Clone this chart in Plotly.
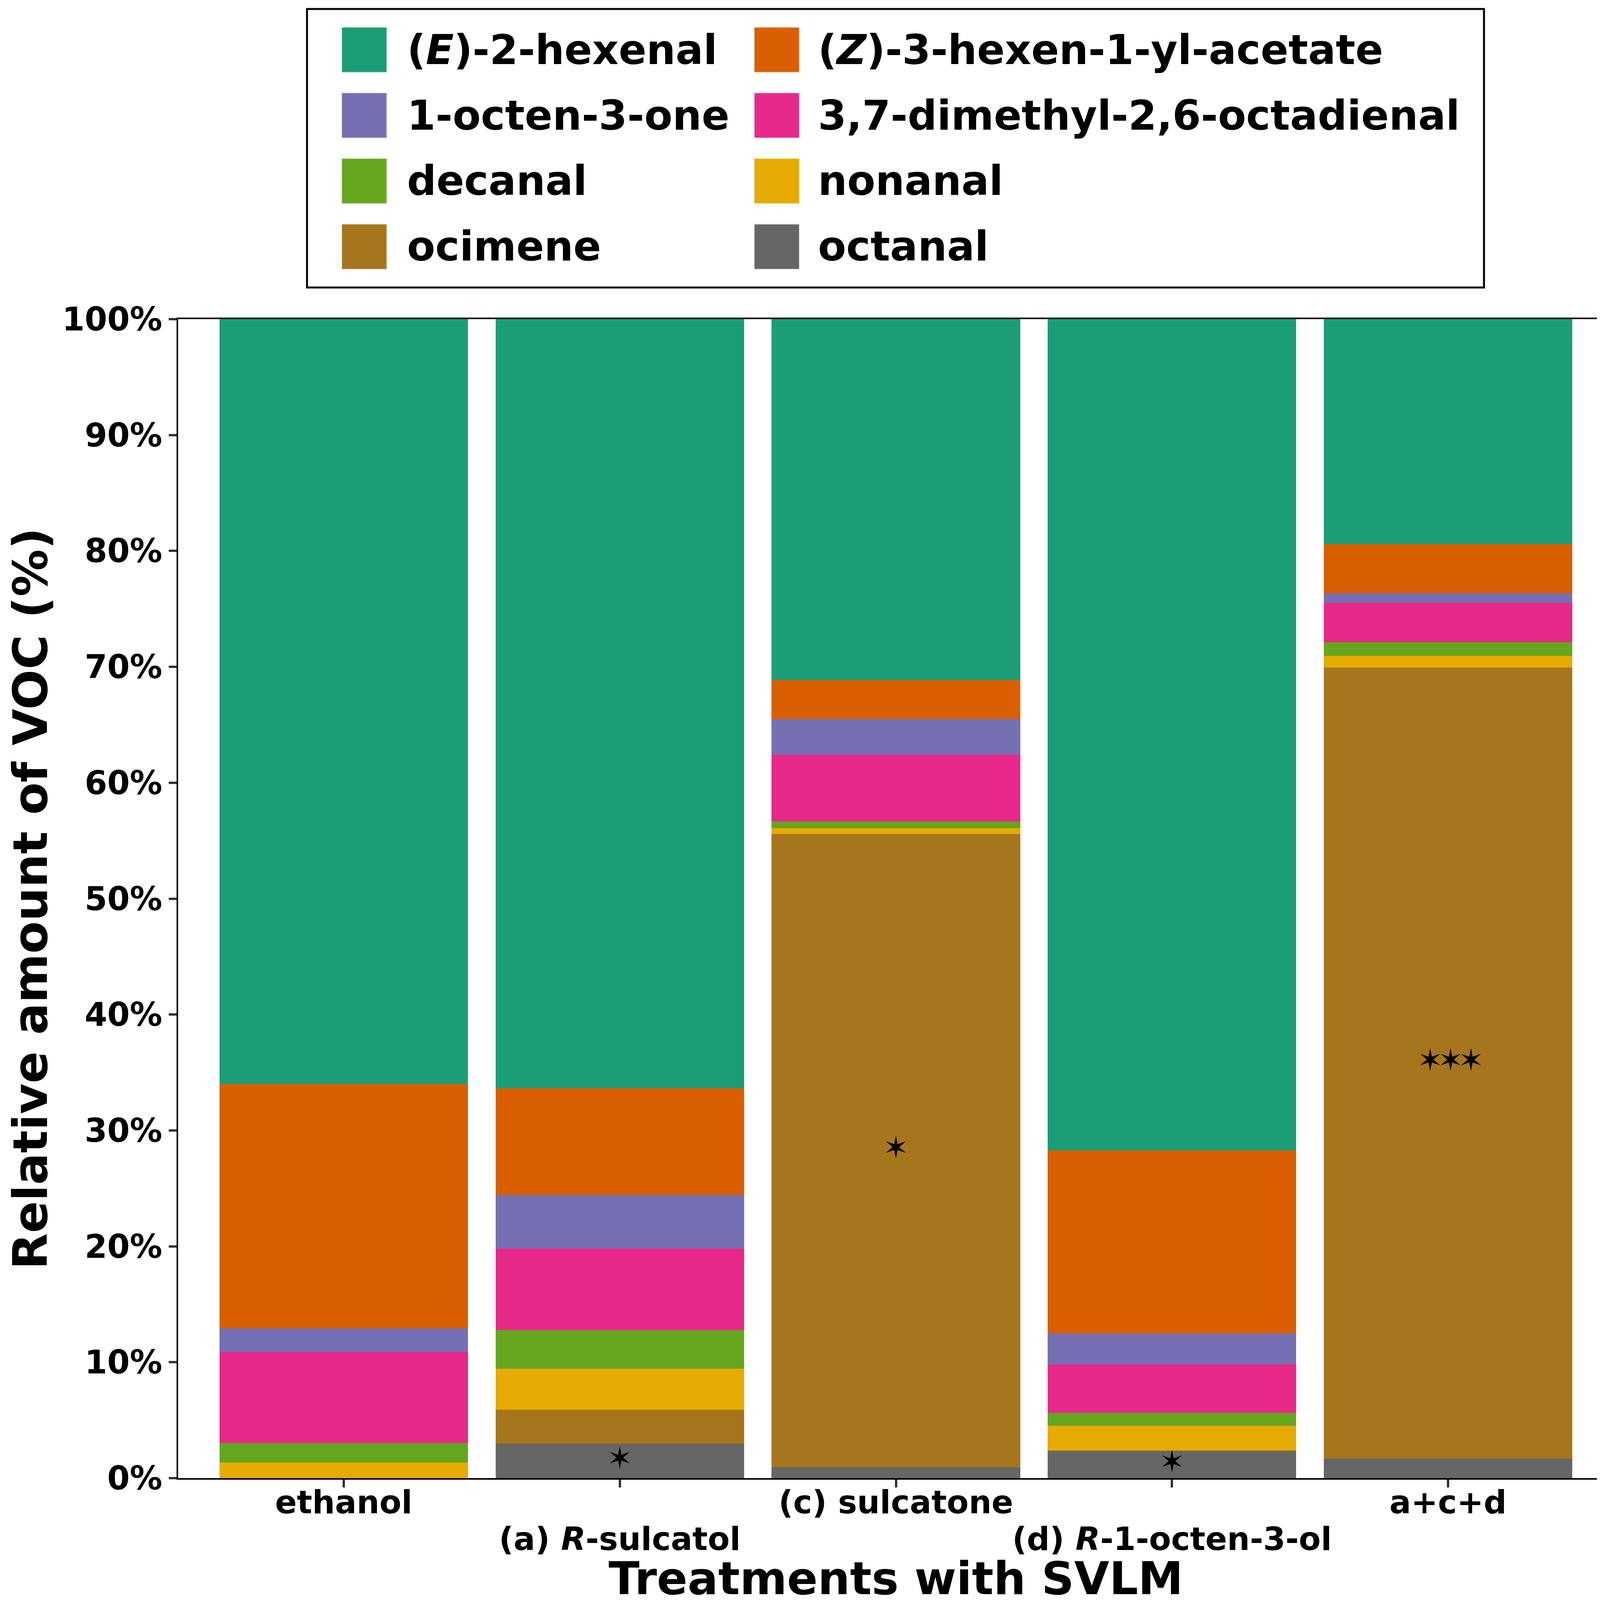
import plotly.graph_objects as go

# ─── Data (relative amount of VOC, %) ─────────────────────────────────────────

treatments = ["ethanol", "(a) R-sulcatol", "(c) sulcatone", "(d) R-1-octen-3-ol", "a+c+d"]
# second and fourth labels sit on a second row (like ggplot's n.dodge = 2)
tick_rows = [1, 2, 1, 2, 1]
tick_names = ["ethanol", "(a) <i>R</i>-sulcatol", "(c) sulcatone",
              "(d) <i>R</i>-1-octen-3-ol", "a+c+d"]

compounds = [
    "(E)-2-hexenal", "(Z)-3-hexen-1-yl-acetate", "1-octen-3-one",
    "3,7-dimethyl-2,6-octadienal", "decanal", "nonanal", "ocimene", "octanal",
]
legend_labels = [
    "(<i>E</i>)-2-hexenal", "(<i>Z</i>)-3-hexen-1-yl-acetate", "1-octen-3-one",
    "3,7-dimethyl-2,6-octadienal", "decanal", "nonanal", "ocimene", "octanal",
]
colors = ["#1B9E77", "#D95F02", "#7570B3", "#E7298A", "#66A61E", "#E6AB02", "#A6761D", "#666666"]

e_2_hexenal = [65.98, 66.37, 31.13, 71.71, 19.43]
z_3_hexenyl_acetate = [21.12, 9.20, 3.37, 15.83, 4.22]
octen_3_one = [2.03, 4.60, 3.07, 2.65, 0.82]
dimethyl_octadienal = [7.83, 7.05, 5.79, 4.18, 3.39]
decanal = [1.69, 3.35, 0.55, 1.10, 1.18]
nonanal = [1.35, 3.52, 0.50, 2.15, 1.03]
ocimene = [0.00, 2.96, 54.66, 0.05, 68.23]
octanal = [0.00, 2.95, 0.93, 2.33, 1.70]

values = [e_2_hexenal, z_3_hexenyl_acetate, octen_3_one, dimethyl_octadienal,
          decanal, nonanal, ocimene, octanal]

# significance marks, placed at the middle of the given segment
sig_marks = ["", "✶", "✶", "✶", "✶✶✶"]
sig_compound = [None, "octanal", "ocimene", "octanal", "ocimene"]

# ─── Figure geometry ──────────────────────────────────────────────────────────
# the page body has an 8px margin, so the figure is made 16px smaller than the
# window and all reference positions are shifted by OFF.

OFF = 8
W, H = 4151 - 2 * OFF, 4130 - 2 * OFF
L, R, T, B = 456 - OFF, 4151 - OFF - 4131, 817 - OFF, H - (3784 - OFF)
FONT = "DejaVu Sans"


def px_x(px):
    return (px - OFF - L) / (W - L - R)


def px_y(py):
    return (H - B - (py - OFF)) / (H - T - B)


fig = go.Figure()

# stacked bars: bottom of the stack is the last compound
for name, vals, col in reversed(list(zip(compounds, values, colors))):
    fig.add_trace(go.Bar(
        x=treatments, y=vals, name=name,
        marker=dict(color=col, line=dict(width=0)),
        hovertemplate="%{x}<br>" + name + ": %{y:.1f}%<extra></extra>",
    ))

# significance stars at segment midpoints
star_x, star_y, star_t = [], [], []
for i, t in enumerate(treatments):
    if not sig_marks[i]:
        continue
    base = 0.0
    for name, vals in reversed(list(zip(compounds, values))):
        if name == sig_compound[i]:
            star_x.append(t)
            star_y.append(base + vals[i] / 2)
            mark = sig_marks[i]
            if len(mark) > 1:  # tighter spacing for runs of stars
                mark = f"<span style='letter-spacing:-13px'>{mark}</span>"
            star_t.append(mark)
            break
        base += vals[i]

fig.add_trace(go.Scatter(
    x=star_x, y=star_y, text=star_t, mode="text",
    textposition="middle center",
    textfont=dict(family=FONT, size=78, color="black"),
    hoverinfo="skip",
))

# ─── Legend (drawn by hand, ggplot-like 2-column box) ─────────────────────────

fig.add_shape(type="rect", xref="paper", yref="paper",
              x0=px_x(786), x1=px_x(3799), y0=px_y(736), y1=px_y(23),
              line=dict(color="black", width=5), fillcolor="white", layer="above")

key_left = [874, 1930]
text_left = [1040, 2092]
row_top = [69, 237, 405, 573]
key = 117
for k, (lab, col) in enumerate(zip(legend_labels, colors)):
    r, c = divmod(k, 2)
    fig.add_shape(type="rect", xref="paper", yref="paper",
                  x0=px_x(key_left[c]), x1=px_x(key_left[c] + key),
                  y0=px_y(row_top[r] + key), y1=px_y(row_top[r]),
                  line=dict(color="#F2F2F2", width=3), fillcolor=col, layer="above")
    fig.add_annotation(xref="paper", yref="paper",
                       x=px_x(text_left[c]), y=px_y(row_top[r] + key / 2),
                       text=lab, showarrow=False, xanchor="left", yanchor="middle",
                       font=dict(family=FONT, size=105, color="black", weight="bold"))

# x axis title
fig.add_annotation(xref="paper", yref="paper", x=0.5, y=px_y(4040),
                   text="Treatments with SVLM", showarrow=False,
                   xanchor="center", yanchor="middle",
                   font=dict(family=FONT, size=116, color="black", weight="bold"))

# tick labels: a small base font gives a tight line step, the span sets the size
tick_text = []
for name, row in zip(tick_names, tick_rows):
    line = f"<span style='font-size:82px'>{name}</span>"
    tick_text.append(line if row == 1 else "<br>" + line)

# ─── Layout ───────────────────────────────────────────────────────────────────

tick_style = dict(ticks="outside", ticklen=20, tickwidth=6, tickcolor="#333333",
                  showline=True, linecolor="black", linewidth=4, mirror=True,
                  showgrid=False, zeroline=False)

fig.update_layout(
    width=W, height=H,
    margin=dict(l=L, r=R, t=T, b=B, autoexpand=False),
    barmode="stack", bargap=0.1,
    plot_bgcolor="white", paper_bgcolor="white",
    showlegend=False,
    font=dict(family=FONT, color="black"),
    xaxis=dict(
        type="category", range=[-0.6, 4.6],
        tickvals=treatments, ticktext=tick_text, tickangle=0,
        ticklabelstandoff=-20,
        tickfont=dict(family=FONT, size=72, color="black", weight="bold"),
        **tick_style,
    ),
    yaxis=dict(
        range=[0, 100], tick0=0, dtick=10, ticksuffix="%",
        tickfont=dict(family=FONT, size=83, color="black", weight="bold"),
        title=dict(text="Relative amount of VOC (%)", standoff=25,
                   font=dict(family=FONT, size=121, color="black", weight="bold")),
        **tick_style,
    ),
)

fig.write_html("out.html")
